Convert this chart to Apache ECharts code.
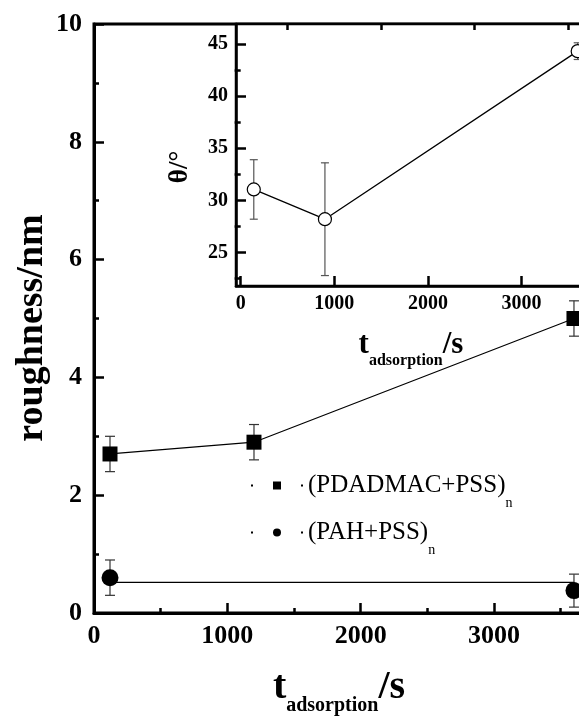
<!DOCTYPE html>
<html><head><meta charset="utf-8">
<script src="https://cdn.jsdelivr.net/npm/echarts@6/dist/echarts.min.js"></script>
<style>html,body{margin:0;padding:0;background:#fff}#c{width:579px;height:720px}</style>
</head><body><div id="c"></div>
<script>
// ---- data ----
const pdadmacX = [120, 1200, 3600];
const pdadmacY = [2.7, 2.9, 5.0];
const pdadmacErr = [0.3, 0.3, 0.3];
const pahX = [120, 3600];
const pahY = [0.6, 0.38];
const pahErr = [0.3, 0.28];
const pahLineX = [120, 3600];
const pahLineY = [0.52, 0.52];
const thetaX = [140, 900, 3600];
const thetaY = [31.05, 28.2, 44.3];
const thetaLow = [28.2, 22.8, 43.5];
const thetaHigh = [33.9, 33.6, 45.1];
const insetXTicks = [0, 1000, 2000, 3000];
const insetXMinor = [500, 1500, 2500, 3500];
const insetYTicks = [25, 30, 35, 40, 45];
const insetYMinor = [22.5, 27.5, 32.5, 37.5, 42.5];

const FF = 'Liberation Serif';
const zip = (a, b) => a.map((v, i) => [v, b[i]]);
const plain = v => String(v);

function errRender(capW, color, lw) {
  return function (params, api) {
    const x = api.value(0), lo = api.value(1), hi = api.value(2);
    const p1 = api.coord([x, lo]), p2 = api.coord([x, hi]);
    const st = { stroke: color, lineWidth: lw };
    return { type: 'group', children: [
      { type: 'line', shape: { x1: p1[0], y1: p1[1], x2: p2[0], y2: p2[1] }, style: st },
      { type: 'line', shape: { x1: p1[0] - capW, y1: p1[1], x2: p1[0] + capW, y2: p1[1] }, style: st },
      { type: 'line', shape: { x1: p2[0] - capW, y1: p2[1], x2: p2[0] + capW, y2: p2[1] }, style: st }
    ]};
  };
}

const chart = echarts.init(document.getElementById('c'), null, { renderer: 'canvas' });

const legendRich = {
  a: { fontFamily: FF, fontSize: 25, color: '#000', lineHeight: 50, verticalAlign: 'middle' },
  b: { fontFamily: FF, fontSize: 14, color: '#000', lineHeight: 14, verticalAlign: 'bottom' }
};

const option = {
  animation: false,
  backgroundColor: '#fff',
  grid: [
    { left: 94, top: 24, width: 533.3, height: 589, outerBoundsMode: 'none', containLabel: false,
      show: true, borderColor: '#000', borderWidth: 3, backgroundColor: 'transparent' },
    { left: 236, top: 24, width: 360.4, height: 262, outerBoundsMode: 'none', containLabel: false,
      show: true, borderColor: '#000', borderWidth: 2.5, backgroundColor: '#fff' }
  ],
  xAxis: [
    { type: 'value', gridIndex: 0, min: 0, max: 4000, interval: 1000,
      axisLine: { onZero: false, lineStyle: { color: '#000', width: 3 } },
      axisTick: { inside: true, length: 10, lineStyle: { width: 2.5, color: '#000' } },
      minorTick: { show: true, splitNumber: 2, length: 5, lineStyle: { width: 2.5, color: '#000' } },
      axisLabel: { formatter: plain, fontFamily: FF, fontWeight: 'bold', fontSize: 26, color: '#000', margin: 10 },
      splitLine: { show: false } },
    { type: 'value', gridIndex: 1, min: -50, max: 3800,
      axisLine: { onZero: false, lineStyle: { color: '#000', width: 2.5 } },
      axisTick: { inside: true, length: 10, customValues: insetXTicks, lineStyle: { width: 2.5, color: '#000' } },
      axisLabel: { customValues: insetXTicks, formatter: plain, fontFamily: FF, fontWeight: 'bold', fontSize: 20, color: '#000', margin: 8 },
      splitLine: { show: false } },
    { type: 'value', gridIndex: 1, min: -50, max: 3800,
      axisLine: { show: false },
      axisTick: { inside: true, length: 6, customValues: insetXMinor, lineStyle: { width: 2.5, color: '#000' } },
      axisLabel: { show: false },
      splitLine: { show: false } }
  ],
  yAxis: [
    { type: 'value', gridIndex: 0, min: 0, max: 10, interval: 2,
      axisLine: { show: true, onZero: false, lineStyle: { color: '#000', width: 3 } },
      axisTick: { show: true, inside: true, length: 10, lineStyle: { width: 2.5, color: '#000' } },
      minorTick: { show: true, splitNumber: 2, length: 5, lineStyle: { width: 2.5, color: '#000' } },
      axisLabel: { formatter: plain, fontFamily: FF, fontWeight: 'bold', fontSize: 26, color: '#000', margin: 12 },
      splitLine: { show: false } },
    { type: 'value', gridIndex: 1, min: 21.8, max: 46.9,
      axisLine: { show: true, onZero: false, lineStyle: { color: '#000', width: 2.5 } },
      axisTick: { show: true, inside: true, length: 10, customValues: insetYTicks, lineStyle: { width: 2.5, color: '#000' } },
      axisLabel: { customValues: insetYTicks, formatter: plain, fontFamily: FF, fontWeight: 'bold', fontSize: 20, color: '#000', margin: 8 },
      splitLine: { show: false } },
    { type: 'value', gridIndex: 1, min: 21.8, max: 46.9,
      axisLine: { show: false },
      axisTick: { show: true, inside: true, length: 6, customValues: insetYMinor, lineStyle: { width: 2.5, color: '#000' } },
      axisLabel: { show: false },
      splitLine: { show: false } }
  ],
  legend: [
    { left: 251, top: 473, padding: 0, itemWidth: 52, itemHeight: 8,
      data: [{ name: 'PDADMAC', icon: 'path://M0,3h2v2h-2z M22,0h8v8h-8z M50,3h2v2h-2z' }],
      formatter: () => '{a|(PDADMAC+PSS)}{b|n}', textStyle: { rich: legendRich } },
    { left: 251, top: 520, padding: 0, itemWidth: 52, itemHeight: 8,
      data: [{ name: 'PAH', icon: 'path://M0,3h2v2h-2z M22,4a4,4 0 1,0 8,0a4,4 0 1,0 -8,0z M50,3h2v2h-2z' }],
      formatter: () => '{a|(PAH+PSS)}{b|n}', textStyle: { rich: legendRich } }
  ],
  graphic: [
    { type: 'text', x: 32, y: 328, rotation: Math.PI / 2,
      style: { text: 'roughness/nm', font: 'bold 38px "Liberation Serif"', fill: '#000', align: 'center', verticalAlign: 'middle' } },
    { type: 'text', x: 339, y: 688,
      style: { text: '{t|t}{s|adsorption}{t|/s}', align: 'center', verticalAlign: 'middle',
        rich: {
          t: { fontFamily: FF, fontWeight: 'bold', fontSize: 40, lineHeight: 56, fill: '#000', verticalAlign: 'middle' },
          s: { fontFamily: FF, fontWeight: 'bold', fontSize: 20, lineHeight: 20, fill: '#000', verticalAlign: 'bottom' }
        } } },
    { type: 'text', x: 180, y: 167, rotation: Math.PI / 2,
      style: { text: 'θ/°', font: 'bold 27px "Liberation Serif"', fill: '#000', align: 'center', verticalAlign: 'middle' } },
    { type: 'text', x: 411, y: 345,
      style: { text: '{t|t}{s|adsorption}{t|/s}', align: 'center', verticalAlign: 'middle',
        rich: {
          t: { fontFamily: FF, fontWeight: 'bold', fontSize: 31, lineHeight: 48, fill: '#000', verticalAlign: 'middle' },
          s: { fontFamily: FF, fontWeight: 'bold', fontSize: 16, lineHeight: 16, fill: '#000', verticalAlign: 'bottom' }
        } } }
  ],
  series: [
    { type: 'line', name: 'pdadmac-line', xAxisIndex: 0, yAxisIndex: 0, data: zip(pdadmacX, pdadmacY),
      showSymbol: false, lineStyle: { color: '#000', width: 1.2 }, z: 2 },
    { type: 'line', name: 'pah-line', xAxisIndex: 0, yAxisIndex: 0, data: zip(pahLineX, pahLineY),
      showSymbol: false, lineStyle: { color: '#000', width: 1.2 }, z: 2 },
    { type: 'custom', name: 'pdadmac-err', xAxisIndex: 0, yAxisIndex: 0,
      data: pdadmacX.map((x, i) => [x, pdadmacY[i] - pdadmacErr[i], pdadmacY[i] + pdadmacErr[i]]),
      encode: { x: 0, y: [1, 2] }, renderItem: errRender(5, '#333', 1.2), z: 3 },
    { type: 'custom', name: 'pah-err', xAxisIndex: 0, yAxisIndex: 0,
      data: pahX.map((x, i) => [x, pahY[i] - pahErr[i], pahY[i] + pahErr[i]]),
      encode: { x: 0, y: [1, 2] }, renderItem: errRender(5, '#333', 1.2), z: 3 },
    { type: 'scatter', name: 'PDADMAC', xAxisIndex: 0, yAxisIndex: 0, data: zip(pdadmacX, pdadmacY),
      symbol: 'rect', symbolSize: 15, itemStyle: { color: '#000', opacity: 1 }, z: 4 },
    { type: 'scatter', name: 'PAH', xAxisIndex: 0, yAxisIndex: 0, data: zip(pahX, pahY),
      symbol: 'circle', symbolSize: 17, itemStyle: { color: '#000', opacity: 1 }, z: 4 },
    { type: 'line', name: 'theta-line', xAxisIndex: 1, yAxisIndex: 1, data: zip(thetaX, thetaY),
      showSymbol: false, lineStyle: { color: '#000', width: 1.3 }, z: 12 },
    { type: 'custom', name: 'theta-err', xAxisIndex: 1, yAxisIndex: 1,
      data: thetaX.map((x, i) => [x, thetaLow[i], thetaHigh[i]]),
      encode: { x: 0, y: [1, 2] }, renderItem: errRender(4, '#555', 1.2), z: 13 },
    { type: 'scatter', name: 'theta', xAxisIndex: 1, yAxisIndex: 1, data: zip(thetaX, thetaY),
      symbol: 'circle', symbolSize: 13, itemStyle: { color: '#fff', borderColor: '#000', borderWidth: 1.2, opacity: 1 }, z: 14 }
  ]
};
chart.setOption(option);
</script>
</body></html>
